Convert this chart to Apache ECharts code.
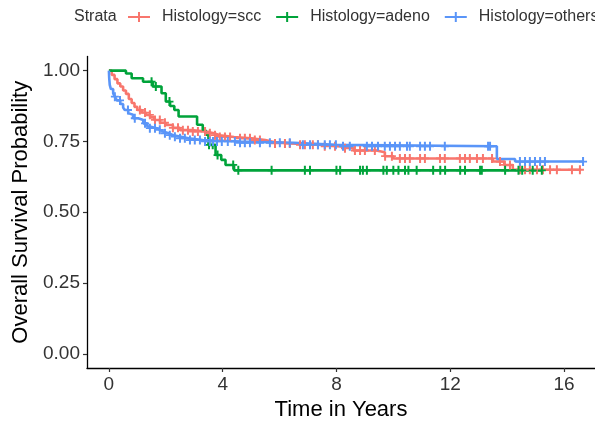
<!DOCTYPE html>
<html>
<head>
<meta charset="utf-8">
<script src="https://cdn.jsdelivr.net/npm/echarts@6/dist/echarts.min.js"></script>
<style>html,body{margin:0;padding:0;background:#fff}#c{width:595px;height:421px}</style>
</head>
<body>
<div id="c"></div>
<script>
// ---- data ----
const strata = ['Histology=scc', 'Histology=adeno', 'Histology=others'];
const xTicks = [0, 4, 8, 12, 16];
const yTicks = [0, 0.25, 0.5, 0.75, 1];

// step curves: [time, survival]
const sccSteps = [[0,1],[0.1,0.985],[0.2,0.97],[0.3,0.955],[0.4,0.944],[0.5,0.93],[0.6,0.918],[0.7,0.9],[0.8,0.886],[0.9,0.872],[1.0,0.861],[1.15,0.852],[1.3,0.844],[1.45,0.835],[1.6,0.826],[1.8,0.816],[2.0,0.808],[2.25,0.798],[2.5,0.79],[2.9,0.785],[3.4,0.779],[3.7,0.772],[3.9,0.766],[4.4,0.761],[5.0,0.755],[5.5,0.748],[5.8,0.743],[6.4,0.738],[7.5,0.733],[8.1,0.726],[8.6,0.718],[9.4,0.712],[9.7,0.698],[10.0,0.69],[13.5,0.679],[13.9,0.667],[14.2,0.65]];
const sccEnd = 16.6;
const adenoSteps = [[0,1],[0.6,0.99],[0.8,0.973],[1.2,0.961],[1.55,0.944],[1.85,0.92],[2.0,0.891],[2.15,0.875],[2.3,0.861],[2.45,0.838],[3.1,0.809],[3.3,0.79],[3.4,0.774],[3.5,0.738],[3.75,0.702],[3.95,0.685],[4.1,0.667],[4.4,0.648]];
const adenoEnd = 15.25;
const othersSteps = [[0,1],[0.01,0.975],[0.03,0.95],[0.07,0.935],[0.15,0.92],[0.21,0.908],[0.28,0.895],[0.4,0.882],[0.5,0.87],[0.56,0.861],[0.68,0.85],[0.74,0.844],[0.85,0.832],[1.03,0.826],[1.21,0.814],[1.35,0.803],[1.44,0.797],[1.68,0.791],[1.8,0.785],[1.91,0.779],[2.1,0.772],[2.26,0.767],[2.5,0.761],[2.8,0.755],[3.3,0.75],[4.6,0.745],[6.5,0.738],[8.0,0.733],[13.64,0.688],[14.28,0.679]];
const othersEnd = 16.67;

// censoring times
const sccCensor = [1.09,1.27,1.44,1.62,1.79,1.97,2.25,2.43,2.60,2.78,2.95,3.13,3.38,3.55,3.73,3.90,4.08,4.26,4.61,4.78,4.96,5.13,5.31,5.84,6.19,6.36,6.72,6.89,7.17,7.35,7.59,7.95,8.30,8.65,8.83,9.00,9.35,9.71,9.95,10.23,10.41,10.58,10.94,11.11,11.64,11.81,12.34,12.52,12.69,12.94,13.15,13.47,13.75,13.92,14.10,14.45,14.63,14.80,15.05,15.26,15.51,15.75,16.28,16.56];
const adenoCensor = [1.50,1.65,2.13,3.52,3.65,3.82,4.37,4.55,5.72,6.89,7.07,8.0,8.13,8.83,8.93,9.07,9.65,9.77,10.0,10.18,10.41,10.53,10.82,11.4,11.65,11.82,12.35,12.52,13.05,13.11,13.93,14.4,14.53,14.9,15.22];
const othersCensor = [0.21,0.39,0.67,0.91,1.27,1.44,1.62,1.79,1.97,2.14,2.32,2.50,2.67,2.85,3.02,3.20,3.38,3.55,3.66,3.80,3.97,4.18,4.43,4.61,4.78,4.96,5.31,5.66,6.01,6.36,6.82,7.07,7.35,7.59,7.77,7.98,8.23,8.47,9.07,9.25,9.46,9.70,9.88,10.06,10.23,10.48,10.58,10.94,11.11,11.29,11.81,13.33,13.40,14.45,14.63,14.80,14.98,15.16,15.33,16.67];

// ---- build ----
const colors = ['#F8766D', '#00A33A', '#5A95F8'];
function withEnd(steps, end) { return steps.concat([[end, steps[steps.length - 1][1]]]); }
function survAt(steps, t) {
  let s = steps[0][1];
  for (const p of steps) { if (p[0] <= t) s = p[1]; else break; }
  return s;
}
const stepSets = [sccSteps, adenoSteps, othersSteps];
const ends = [sccEnd, adenoEnd, othersEnd];
const censors = [sccCensor, adenoCensor, othersCensor];
const plus = 'path://M3,0 L5,0 L5,3.6 L8,3.6 L8,5.4 L5,5.4 L5,9 L3,9 L3,5.4 L0,5.4 L0,3.6 L3,3.6 Z';
const legendIcon = 'path://M0,4 L22,4 L22,6 L0,6 Z M10,0 L12,0 L12,10 L10,10 Z';

const series = [];
strata.forEach((name, i) => {
  series.push({
    name: name, type: 'line', step: 'end', symbol: 'none',
    data: withEnd(stepSets[i], ends[i]),
    lineStyle: { color: colors[i], width: 2.6 }, itemStyle: { color: colors[i] },
    silent: true, animation: false, z: 2
  });
});
strata.forEach((name, i) => {
  series.push({
    name: name + ' censor', type: 'scatter', symbol: plus, symbolSize: [8, 9],
    data: censors[i].map(t => [t, survAt(stepSets[i], t)]),
    itemStyle: { color: colors[i], opacity: 1 }, silent: true, animation: false, z: 3
  });
});

const chart = echarts.init(document.getElementById('c'), null, { renderer: 'canvas' });
chart.setOption({
  animation: false,
  color: colors,
  grid: { left: 87, right: 0, top: 56.5, bottom: 53, containLabel: false, outerBoundsMode: 'none' },
  legend: {
    data: strata.map(n => ({ name: n, icon: legendIcon })),
    left: 123, top: 4, width: 900, itemWidth: 22, itemHeight: 10, itemGap: 15,
    textStyle: { fontFamily: 'Liberation Sans', fontSize: 16, color: '#333', padding: [0, 0, 0, 7] },
    selectedMode: false
  },
  graphic: [{
    type: 'text', left: 74, top: 9,
    style: { text: 'Strata', fontFamily: 'Liberation Sans', fontSize: 16, fill: '#333' }
  }],
  xAxis: {
    type: 'value', min: -0.77, max: 17.09,
    name: 'Time in Years', nameLocation: 'middle', nameGap: 30,
    nameTextStyle: { fontFamily: 'Liberation Sans', fontSize: 22, color: '#000' },
    axisLine: { onZero: false, lineStyle: { color: '#000', width: 1.3 } },
    axisTick: { show: true, length: 4, customValues: xTicks, lineStyle: { color: '#333', width: 1.2 } },
    axisLabel: { customValues: xTicks, fontFamily: 'Liberation Sans', fontSize: 19, color: '#333', margin: 7 },
    splitLine: { show: false }
  },
  yAxis: {
    type: 'value', min: -0.05, max: 1.05,
    name: 'Overall Survival Probability', nameLocation: 'middle', nameGap: 54, nameRotate: 90,
    nameTextStyle: { fontFamily: 'Liberation Sans', fontSize: 22, color: '#000' },
    axisLine: { show: true, onZero: false, lineStyle: { color: '#000', width: 1.3 } },
    axisTick: { show: true, length: 4, customValues: yTicks, lineStyle: { color: '#333', width: 1.2 } },
    axisLabel: { customValues: yTicks, fontFamily: 'Liberation Sans', fontSize: 19, color: '#333', margin: 7,
      formatter: v => v.toFixed(2) },
    splitLine: { show: false }
  },
  series: series
});
</script>
</body>
</html>
